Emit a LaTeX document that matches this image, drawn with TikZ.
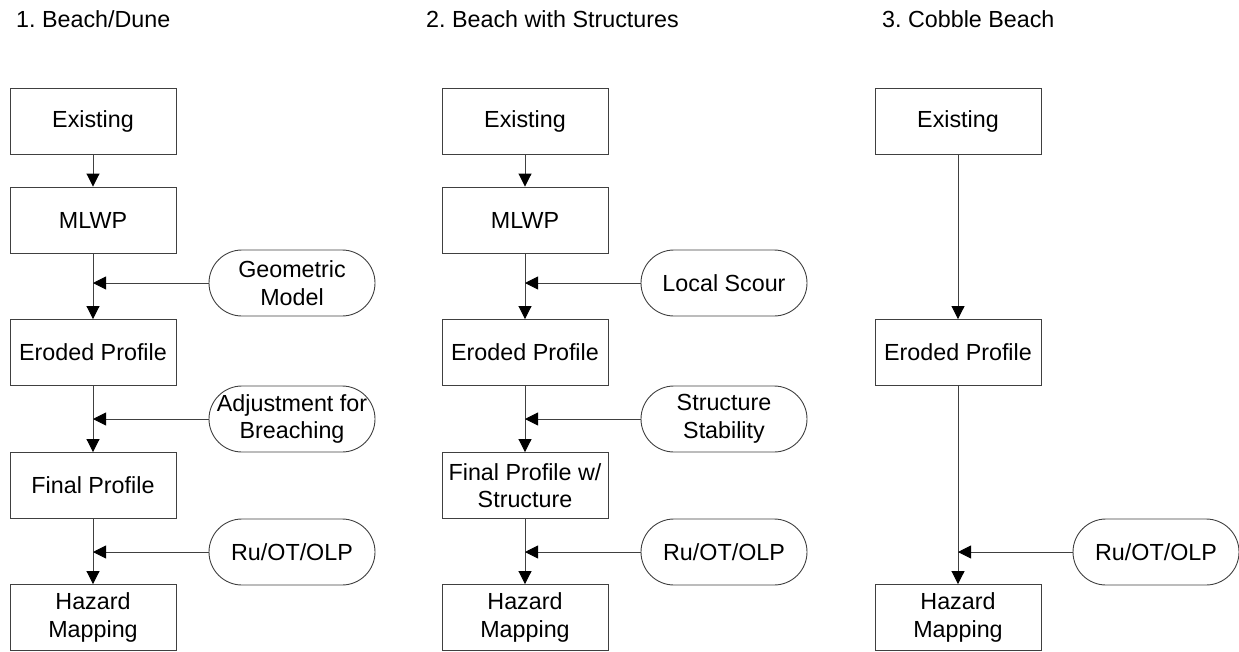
\documentclass[tikz,border=0pt]{standalone}
\usepackage{fontspec}
\setmainfont{Liberation Sans}
\usetikzlibrary{arrows.meta}
\frenchspacing
\begin{document}
\begin{tikzpicture}[x=1pt,y=-1pt,
  txt/.style={font=\fontsize{23.3}{27.5}\selectfont},
  box/.style={txt, draw=black!75, line width=0.9pt, minimum width=166pt, minimum height=66pt, inner sep=1pt, align=center},
  oval/.style={box, rounded corners=33pt},
  ttl/.style={txt, anchor=base west, inner sep=0pt},
  arr/.style={draw=black!75, line width=0.9pt, -{Triangle[length=13pt,width=13pt,color=black]}}]
\useasboundingbox (0,0) rectangle (1239,651);
% titles
\node[ttl] (t1) at (16,27) {1. Beach/Dune};
\node[ttl] (t2) at (426,27) {2. Beach with Structures};
\node[ttl] (t3) at (882,27) {3. Cobble Beach};
% column 1
\node[box] (e1) at (93,121) {Existing};
\node[box] (m1) at (93,220) {MLWP};
\node[box] (r1) at (93,352.5) {Eroded Profile};
\node[box] (f1) at (93,485.5) {Final Profile};
\node[box] (h1) at (93,617.5) {Hazard\\Mapping};
\node[oval] (g1) at (292,283) {Geometric\\Model};
\node[oval] (a1) at (292,419) {Adjustment for\\Breaching};
\node[oval] (o1) at (292,552) {Ru/OT/OLP};
\draw[arr] (e1) -- (m1);
\draw[arr] (m1) -- (r1);
\draw[arr] (r1) -- (f1);
\draw[arr] (f1) -- (h1);
\draw[arr] (g1.west) -- (g1.west -| m1.south);
\draw[arr] (a1.west) -- (a1.west -| r1.south);
\draw[arr] (o1.west) -- (o1.west -| f1.south);
% column 2
\node[box] (e2) at (525,121) {Existing};
\node[box] (m2) at (525,220) {MLWP};
\node[box] (r2) at (525,352.5) {Eroded Profile};
\node[box] (f2) at (525,485.5) {Final Profile w/\\Structure};
\node[box] (h2) at (525,617.5) {Hazard\\Mapping};
\node[oval] (g2) at (724,283) {Local Scour};
\node[oval] (a2) at (724,419) {Structure\\Stability};
\node[oval] (o2) at (724,552) {Ru/OT/OLP};
\draw[arr] (e2) -- (m2);
\draw[arr] (m2) -- (r2);
\draw[arr] (r2) -- (f2);
\draw[arr] (f2) -- (h2);
\draw[arr] (g2.west) -- (g2.west -| m2.south);
\draw[arr] (a2.west) -- (a2.west -| r2.south);
\draw[arr] (o2.west) -- (o2.west -| f2.south);
% column 3
\node[box] (e3) at (958,121) {Existing};
\node[box] (r3) at (958,352.5) {Eroded Profile};
\node[box] (h3) at (958,617.5) {Hazard\\Mapping};
\node[oval] (o3) at (1156,552) {Ru/OT/OLP};
\draw[arr] (e3) -- (r3);
\draw[arr] (r3) -- (h3);
\draw[arr] (o3.west) -- (o3.west -| r3.south);
\end{tikzpicture}
\end{document}
